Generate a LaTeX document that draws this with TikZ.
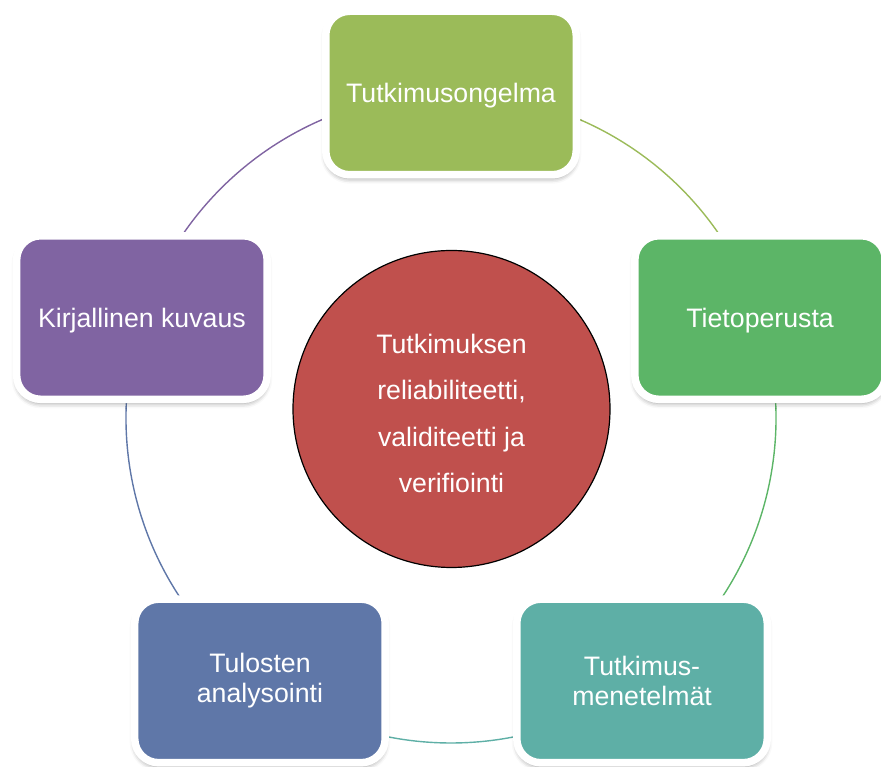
\documentclass[tikz,border=0pt]{standalone}
\usepackage{fontspec}
\setmainfont{Liberation Sans}
\usetikzlibrary{shadows.blur}
\definecolor{stageolive}{HTML}{9BBB59}
\definecolor{stagegreen}{HTML}{5CB567}
\definecolor{stageteal}{HTML}{5EAFA6}
\definecolor{stageblue}{HTML}{5F77A8}
\definecolor{stagepurple}{HTML}{8064A2}
\definecolor{hubred}{HTML}{C0504D}
\pgfdeclarelayer{background}
\pgfsetlayers{background,main}
\begin{document}
\begin{tikzpicture}[x=1pt,y=1pt,
  stagebox/.style={rounded corners=24pt, draw=white, line width=7.5pt,
    minimum width=250.5pt, minimum height=163.5pt, inner sep=0pt,
    text=white, align=center, font=\fontsize{26.7}{30}\selectfont,
    blur shadow={shadow xshift=0pt, shadow yshift=-4pt,
      shadow blur radius=5pt, shadow opacity=40}},
  oneline/.style={text depth=0pt},
  ringarc/.style={line width=1.4pt}]
\useasboundingbox (0,0) rectangle (881,767);
\coordinate (hub) at (451,349);

% the five stages, evenly spaced on a ring of radius 325
\node[stagebox, oneline, fill=stageolive]  (problem)  at ([shift={(90:325)}]hub)  {Tutkimusongelma};
\node[stagebox, oneline, fill=stagegreen]  (basis)    at ([shift={(18:325)}]hub)  {Tietoperusta};
\node[stagebox, fill=stageteal]            (methods)  at ([shift={(-54:325)}]hub) {Tutkimus-\\menetelmät};
\node[stagebox, fill=stageblue]            (analysis) at ([shift={(-126:325)}]hub) {Tulosten\\analysointi};
\node[stagebox, oneline, fill=stagepurple] (report)   at ([shift={(162:325)}]hub) {Kirjallinen kuvaus};

% central circle
\node[circle, minimum size=317pt, inner sep=0pt, fill=hubred, draw=black,
  line width=1.2pt, text=white, align=center,
  font=\fontsize{26.7}{46.5}\selectfont] (core) at (451.5,358)
  {\rule{0pt}{28pt}Tutkimuksen\\reliabiliteetti,\\validiteetti ja\\verifiointi};

% ring segments between consecutive stages, behind the boxes
\begin{pgfonlayer}{background}
\draw[ringarc, stageolive]  (problem.center)  arc[start angle=90,   end angle=18,   radius=325];
\draw[ringarc, stagegreen]  (basis.center)    arc[start angle=18,   end angle=-54,  radius=325];
\draw[ringarc, stageteal]   (methods.center)  arc[start angle=-54,  end angle=-126, radius=325];
\draw[ringarc, stageblue]   (analysis.center) arc[start angle=-126, end angle=-198, radius=325];
\draw[ringarc, stagepurple] (report.center)   arc[start angle=162,  end angle=90,   radius=325];
\end{pgfonlayer}
\end{tikzpicture}
\end{document}
